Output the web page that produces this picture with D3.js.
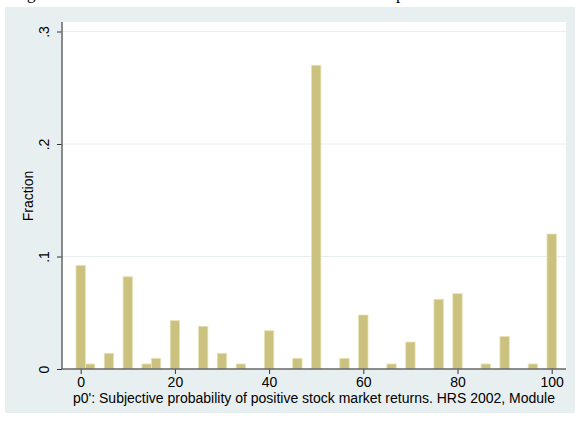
<!DOCTYPE html>
<html>
<head>
<meta charset="utf-8">
<script src="https://cdn.jsdelivr.net/npm/d3@7"></script>
<style>
  html, body { margin: 0; padding: 0; background: #ffffff; }
  svg { display: block; }
  text { font-family: "Liberation Sans", Arial, sans-serif; fill: #000; }
</style>
</head>
<body>
<div id="chart"></div>
<script>
// Histogram of p0 responses (bin centre, fraction of respondents)
const binCenters = [0, 2, 6, 10, 14, 16, 20, 26, 30, 34, 40, 46, 50, 56, 60, 66, 70, 76, 80, 86, 90, 96, 100];
const fractions  = [0.092, 0.0045, 0.014, 0.082, 0.0045, 0.0095, 0.043, 0.038, 0.014, 0.0045, 0.034, 0.0095,
                    0.270, 0.0095, 0.048, 0.0045, 0.024, 0.062, 0.067, 0.0045, 0.029, 0.0045, 0.120];
const binWidth = 2;
const xTicks = [0, 20, 40, 60, 80, 100];
const yTicks = [0, 0.1, 0.2, 0.3];
const yTickLabels = ["0", ".1", ".2", ".3"];
const xTitle = "p0': Subjective probability of positive stock market returns. HRS 2002, Module";
const yTitle = "Fraction";

const W = 575, H = 423;
const svg = d3.select("#chart").append("svg").attr("width", W).attr("height", H);

// descenders of the heading line above the figure
svg.append("text").attr("x", 27).attr("y", -1)
  .style("font-family", "'Liberation Serif', serif").style("font-size", "17px").text("g");
svg.append("text").attr("x", 396).attr("y", -1)
  .style("font-family", "'Liberation Serif', serif").style("font-size", "17px").text("p");

// graph region
svg.append("rect").attr("x", 5).attr("y", 7).attr("width", W - 5).attr("height", 406)
  .attr("fill", "#e8eff1");

// plot region
const plot = { left: 62, right: 566, top: 22, bottom: 369 };
svg.append("rect").attr("x", plot.left).attr("y", plot.top)
  .attr("width", plot.right - plot.left).attr("height", plot.bottom - plot.top)
  .attr("fill", "#ffffff");

const x = d3.scaleLinear().domain([0, 100]).range([80.7, 551.7]);
const y = d3.scaleLinear().domain([0, 0.3]).range([369, 31.5]);

// grid lines
svg.append("g").selectAll("line").data(yTicks.slice(1)).join("line")
  .attr("x1", plot.left).attr("x2", plot.right)
  .attr("y1", d => y(d)).attr("y2", d => y(d))
  .attr("stroke", "#e6eef0").attr("stroke-width", 1);

// bars
svg.append("g").selectAll("rect").data(binCenters).join("rect")
  .attr("x", d => x(d - binWidth / 2))
  .attr("width", d => x(d + binWidth / 2) - x(d - binWidth / 2))
  .attr("y", (d, i) => y(fractions[i]))
  .attr("height", (d, i) => y(0) - y(fractions[i]))
  .attr("fill", "#ccc280")
  .attr("stroke", "#e9e3b8").attr("stroke-width", 0.8);

// y axis
const yAxis = d3.axisLeft(y).tickValues(yTicks).tickSize(5).tickPadding(6)
  .tickFormat((d, i) => yTickLabels[i]);
const gy = svg.append("g").attr("transform", `translate(${plot.left},0)`).call(yAxis);
gy.select(".domain").remove();
gy.append("line").attr("x1", 0).attr("x2", 0).attr("y1", plot.top).attr("y2", plot.bottom)
  .attr("stroke", "#666").attr("stroke-width", 1.5);
gy.selectAll(".tick line").attr("stroke", "#333");
gy.selectAll(".tick text")
  .style("font-size", "14px").attr("fill", "#000")
  .attr("text-anchor", "middle").attr("x", null).attr("dy", null)
  .attr("transform", "translate(-13,0) rotate(-90)")
  .attr("y", 0);

// x axis
const xAxis = d3.axisBottom(x).tickValues(xTicks).tickSize(5).tickPadding(3)
  .tickFormat(d3.format("d"));
const gx = svg.append("g").attr("transform", `translate(0,${plot.bottom})`).call(xAxis);
gx.select(".domain").remove();
gx.append("line").attr("x1", plot.left - 1).attr("x2", plot.right).attr("y1", 0).attr("y2", 0)
  .attr("stroke", "#666").attr("stroke-width", 1.5);
gx.selectAll(".tick line").attr("stroke", "#333");
gx.selectAll(".tick text").style("font-size", "14px").attr("fill", "#000");

// axis titles
svg.append("text").attr("x", (plot.left + plot.right) / 2).attr("y", 403)
  .attr("text-anchor", "middle").style("font-size", "14px").text(xTitle);
svg.append("text").attr("transform", `translate(33,196) rotate(-90)`)
  .attr("text-anchor", "middle").style("font-size", "14px").text(yTitle);
</script>
</body>
</html>
